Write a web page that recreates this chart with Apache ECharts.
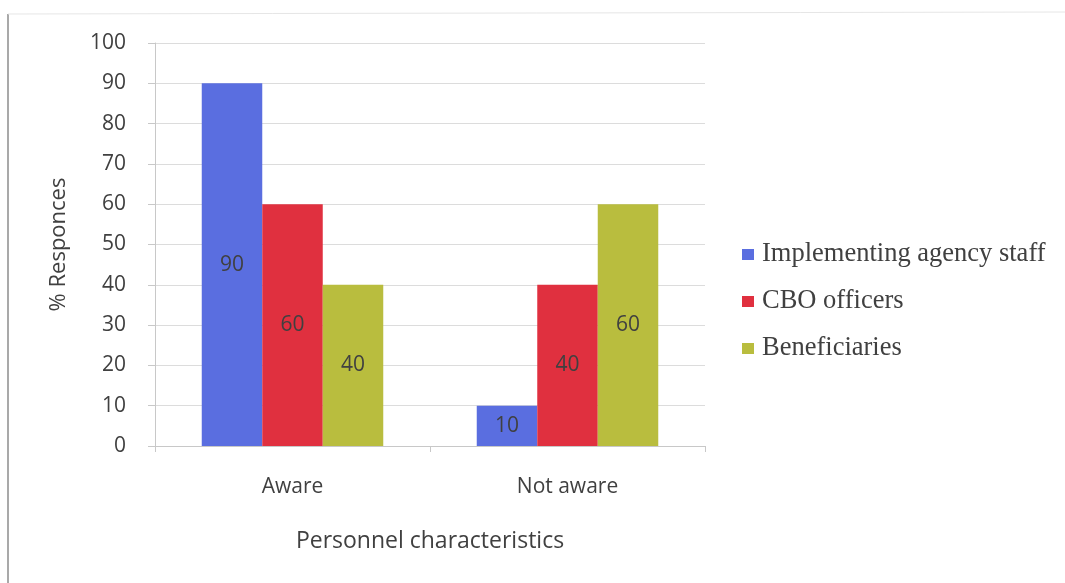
<!DOCTYPE html>
<html>
<head>
<meta charset="utf-8">
<script src="https://cdn.jsdelivr.net/npm/echarts@6/dist/echarts.min.js"></script>
<style>
  html, body { margin: 0; padding: 0; background: #ffffff; }
  #chart { width: 1065px; height: 583px; }
</style>
</head>
<body>
<div id="chart"></div>
<script>
// Awareness of personnel groups, in percent of responses
const categories = ['Aware', 'Not aware'];
const seriesNames = ['Implementing agency staff', 'CBO officers', 'Beneficiaries'];
const implementingStaff = [90, 10];
const cboOfficers = [60, 40];
const beneficiaries = [40, 60];
const yTicks = [0, 10, 20, 30, 40, 50, 60, 70, 80, 90, 100];

const colors = ['#5a6ee0', '#e0303f', '#b9bd3e'];
const sansFont = '"Open Sans", "Noto Sans", sans-serif';

const chart = echarts.init(document.getElementById('chart'), null, { renderer: 'canvas' });

function barSeries(name, data, color) {
  return {
    name: name,
    type: 'bar',
    data: data,
    barGap: '0%',
    barCategoryGap: '34%',
    itemStyle: { color: color },
    label: {
      show: true,
      position: 'inside',
      color: '#404040',
      fontFamily: sansFont,
      fontSize: 21
    }
  };
}

chart.setOption({
  backgroundColor: '#ffffff',
  animation: false,
  color: colors,
  graphic: [
    { type: 'line', shape: { x1: 8, y1: 14, x2: 8, y2: 583 }, style: { stroke: '#8c8c8c', lineWidth: 1.5 } },
    { type: 'line', shape: { x1: 8, y1: 14, x2: 1065, y2: 12 }, style: { stroke: '#e6e6e6', lineWidth: 1 } }
  ],
  grid: { left: 155, right: 360, top: 43, bottom: 137, containLabel: false },
  legend: {
    orient: 'vertical',
    left: 737,
    top: 236,
    itemWidth: 12,
    itemHeight: 11,
    itemGap: 20,
    icon: 'rect',
    data: seriesNames,
    textStyle: {
      fontFamily: '"Liberation Serif", "Times New Roman", serif',
      fontSize: 26.5,
      color: '#404040',
      padding: [0, 0, 0, 3]
    }
  },
  xAxis: {
    type: 'category',
    data: categories,
    name: 'Personnel characteristics',
    nameLocation: 'middle',
    nameGap: 84,
    nameTextStyle: { fontFamily: sansFont, fontSize: 23, color: '#404040' },
    axisLine: { show: true, lineStyle: { color: '#c8c8c8' } },
    axisTick: { show: true, length: 6, lineStyle: { color: '#c8c8c8' } },
    axisLabel: { margin: 31, fontFamily: sansFont, fontSize: 21, color: '#404040' }
  },
  yAxis: {
    type: 'value',
    min: 0,
    max: 100,
    interval: 10,
    name: '% Responces',
    nameLocation: 'middle',
    nameGap: 85,
    nameRotate: 90,
    nameTextStyle: { fontFamily: sansFont, fontSize: 22, color: '#404040' },
    axisLine: { show: true, lineStyle: { color: '#c8c8c8' } },
    axisTick: { show: true, length: 7, lineStyle: { color: '#c8c8c8' } },
    axisLabel: {
      margin: 29,
      fontFamily: sansFont,
      fontSize: 21,
      color: '#404040',
      formatter: function (v) { return yTicks.indexOf(v) >= 0 ? String(v) : ''; }
    },
    splitLine: { show: true, lineStyle: { color: '#dcdcdc' } }
  },
  series: [
    barSeries(seriesNames[0], implementingStaff, colors[0]),
    barSeries(seriesNames[1], cboOfficers, colors[1]),
    barSeries(seriesNames[2], beneficiaries, colors[2])
  ]
});
</script>
</body>
</html>
